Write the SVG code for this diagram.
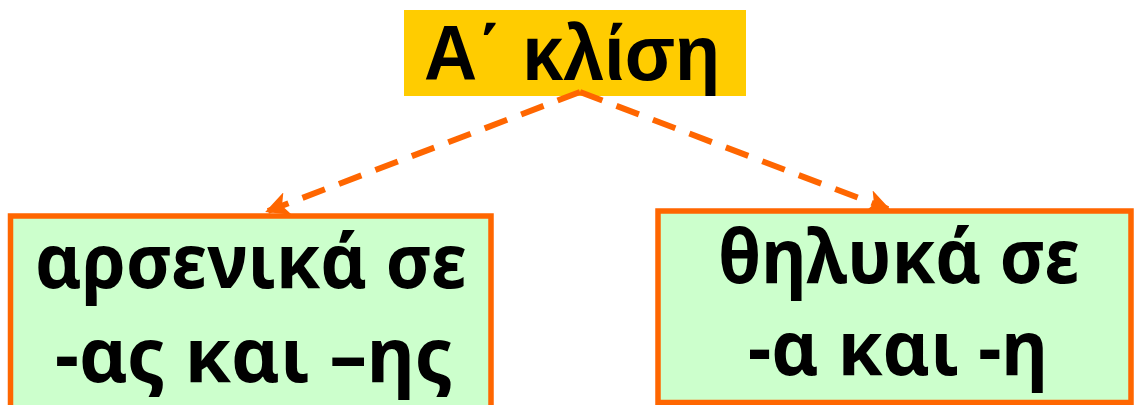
<svg xmlns="http://www.w3.org/2000/svg" width="1134" height="405" viewBox="0 0 1134 405">
<style>
.box{fill:#CCFFCC;stroke:#FF6600;stroke-width:5.5}
.t{font-family:"Noto Sans","DejaVu Sans",sans-serif;font-weight:bold;fill:#000;text-anchor:middle}
.h{font-family:"Liberation Sans",Arial,sans-serif;font-weight:bold;fill:#000;text-anchor:middle}
.c{fill:none;stroke:#FF6600;stroke-width:6;stroke-dasharray:24,15}
</style>
<defs>
<marker id="ah" markerWidth="4" markerHeight="4" refX="7" refY="4" orient="auto" markerUnits="strokeWidth" viewBox="0 0 8 8">
<path d="M0,0 L8,4 L0,8 L2,4 Z" fill="#FF6600"/>
</marker>
</defs>
<rect x="0" y="0" width="1134" height="405" fill="#fff"/>
<g id="title">
<rect x="404" y="10" width="342" height="86" fill="#FFCC00"/>
<text class="h" x="572" y="80" font-size="78" textLength="296" lengthAdjust="spacingAndGlyphs">Α΄ κλίση</text>
</g>
<g id="connectors">
<path class="c" d="M580,92 L268,211" marker-end="url(#ah)"/>
<path class="c" d="M580,92 L888,209" marker-end="url(#ah)"/>
</g>
<g id="masc">
<rect class="box" x="10.5" y="216" width="480.5" height="210"/>
<text class="t" x="251" y="288" font-size="75" textLength="432" lengthAdjust="spacingAndGlyphs">αρσενικά σε</text>
<text class="t" x="254" y="382" font-size="75" textLength="398" lengthAdjust="spacingAndGlyphs">-ας και –ης</text>
</g>
<g id="fem">
<rect class="box" x="658" y="211" width="473" height="191.5"/>
<text class="t" x="899" y="283" font-size="75" textLength="362" lengthAdjust="spacingAndGlyphs">θηλυκά σε</text>
<text class="t" x="898" y="375" font-size="75" textLength="300" lengthAdjust="spacingAndGlyphs">-α και -η</text>
</g>
</svg>
